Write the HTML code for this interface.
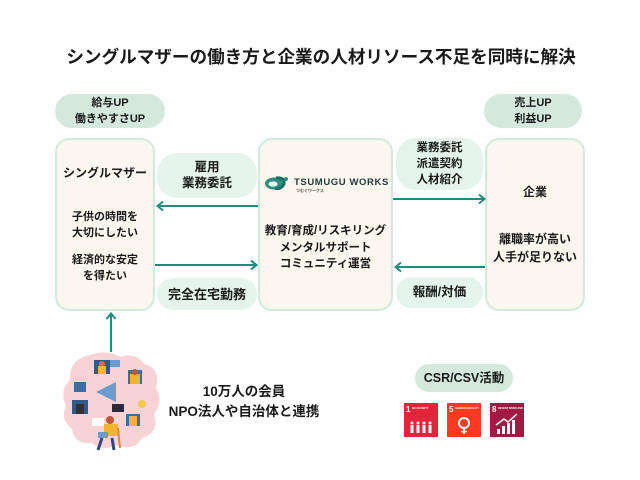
<!DOCTYPE html>
<html><head><meta charset="utf-8">
<style>
html,body{margin:0;padding:0;background:#fff;}
body{width:640px;height:480px;position:relative;overflow:hidden;font-family:"Liberation Sans","Noto Sans CJK JP",sans-serif;font-weight:bold;color:#1a1a1a;}
.a{position:absolute;}
.t{position:absolute;text-align:center;white-space:nowrap;}
.box{position:absolute;background:#fbf7ee;border:2px solid #d3e9dc;border-radius:14px;box-sizing:border-box;}
.pill{position:absolute;background:#d4e8dc;border-radius:18px;}
.mint{position:absolute;background:#e5f5ed;border-radius:20px;}
</style></head><body>

<div class="t" style="left:0;width:642px;top:46px;font-size:17.6px;line-height:22px;">シングルマザーの働き方と企業の人材リソース不足を同時に解決</div>

<div class="pill" style="left:55px;top:94px;width:110px;height:34px;"></div>
<div class="t" style="left:55px;width:110px;top:95px;font-size:11px;line-height:16px;">給与UP<br>働きやすさUP</div>
<div class="pill" style="left:484px;top:94px;width:98px;height:34px;"></div>
<div class="t" style="left:484px;width:98px;top:95px;font-size:11px;line-height:16px;">売上UP<br>利益UP</div>

<div class="box" style="left:55px;top:138px;width:100px;height:173px;"></div>
<div class="box" style="left:258px;top:138px;width:135px;height:173px;"></div>
<div class="box" style="left:485px;top:138px;width:100px;height:173px;"></div>

<div class="t" style="left:55px;width:100px;top:165px;font-size:12px;line-height:16px;">シングルマザー</div>
<div class="t" style="left:55px;width:100px;top:210px;font-size:11px;line-height:15.5px;">子供の時間を<br>大切にしたい</div>
<div class="t" style="left:55px;width:100px;top:253px;font-size:11px;line-height:15.5px;">経済的な安定<br>を得たい</div>

<div class="mint" style="left:157px;top:153px;width:100px;height:45px;"></div>
<div class="t" style="left:157px;width:100px;top:159px;font-size:12.5px;line-height:16px;">雇用<br>業務委託</div>
<div class="mint" style="left:157px;top:278px;width:100px;height:32px;border-radius:16px;"></div>
<div class="t" style="left:157px;width:100px;top:286px;font-size:13px;line-height:17px;">完全在宅勤務</div>

<div class="mint" style="left:396px;top:138px;width:87px;height:52px;"></div>
<div class="t" style="left:396px;width:87px;top:140px;font-size:11.5px;line-height:16px;">業務委託<br>派遣契約<br>人材紹介</div>
<div class="mint" style="left:396px;top:277px;width:87px;height:31px;border-radius:16px;"></div>
<div class="t" style="left:396px;width:87px;top:284px;font-size:12.5px;line-height:17px;">報酬/対価</div>

<!-- logo -->
<svg class="a" style="left:264px;top:176px;" width="26" height="14" viewBox="0 0 26 14">
<ellipse cx="10" cy="7.5" rx="9" ry="6" fill="#2f8f84"/>
<ellipse cx="9" cy="8" rx="4.5" ry="2.6" fill="#fbf7ee"/>
<path d="M12 2 Q21 1 20 8 Q18 13 11 13" fill="none" stroke="#1e6e66" stroke-width="3"/>
<circle cx="22" cy="3" r="2" fill="#2f8f84"/>
</svg>
<div class="a" style="left:294px;top:177px;font-size:9.5px;line-height:11px;letter-spacing:0.6px;color:#1f3838;font-family:'Liberation Sans',sans-serif;">TSUMUGU WORKS</div>
<div class="a" style="left:296px;top:188px;font-size:4px;line-height:5px;color:#555;">つむぐワークス</div>

<div class="t" style="left:258px;width:135px;top:223px;font-size:11.5px;line-height:16.5px;">教育/育成/リスキリング<br>メンタルサポート<br>コミュニティ運営</div>

<div class="t" style="left:485px;width:100px;top:184px;font-size:12px;line-height:16px;">企業</div>
<div class="t" style="left:485px;width:100px;top:230px;font-size:12px;line-height:18px;">離職率が高い<br>人手が足りない</div>

<svg class="a" style="left:0;top:0;" width="640" height="480">
<g stroke="#1f8c7e" stroke-width="2" fill="none">
<line x1="258" y1="206" x2="158" y2="206"/>
<polyline points="163,201.5 157.5,206 163,210.5"/>
<line x1="155" y1="265" x2="256" y2="265"/>
<polyline points="251,260.5 256.5,265 251,269.5"/>
<line x1="393" y1="199" x2="484" y2="199"/>
<polyline points="479,194.5 484.5,199 479,203.5"/>
<line x1="485" y1="267" x2="396" y2="267"/>
<polyline points="401,262.5 395.5,267 401,271.5"/>
<line x1="111" y1="352" x2="111" y2="314"/>
<polyline points="106.5,319 111,313.5 115.5,319"/>
</g>
</svg>

<!-- illustration -->
<svg class="a" style="left:62px;top:352px;" width="100" height="100" viewBox="0 0 100 100">
<path d="M28 3 Q45 -3 58 5 Q74 0 82 12 Q99 16 94 36 Q102 50 92 62 Q98 80 80 86 Q72 100 54 93 Q40 100 30 91 Q12 93 10 77 Q-2 68 4 54 Q-3 38 8 28 Q6 8 28 3Z" fill="#f7d3d6"/>
<rect x="12" y="30" width="12" height="10" fill="#3b6fa3"/>
<rect x="32" y="8" width="16" height="14" fill="#2f5a8a"/>
<circle cx="40" cy="12" r="3" fill="#d9703a"/>
<rect x="36" y="14" width="8" height="8" fill="#f2b431"/>
<rect x="48" y="8" width="10" height="7" fill="#6c9bd0"/>
<rect x="66" y="18" width="14" height="14" fill="#3b6fa3"/>
<rect x="68" y="22" width="10" height="10" fill="#f2b431"/>
<circle cx="73" cy="20" r="3" fill="#c0563a"/>
<path d="M34 40 L54 30 L54 50 Z" fill="#6c9bd0"/>
<rect x="10" y="48" width="16" height="14" fill="#2f5a8a"/>
<rect x="14" y="52" width="8" height="10" fill="#333"/>
<rect x="50" y="52" width="12" height="8" fill="#2a2a3a"/>
<circle cx="80" cy="52" r="4" fill="#f2c94c"/>
<rect x="64" y="62" width="14" height="12" fill="#3b6fa3"/>
<rect x="67" y="64" width="8" height="10" fill="#f2b431"/>
<rect x="30" y="66" width="12" height="8" fill="#fff"/>
<rect x="42" y="72" width="14" height="12" fill="#f2b431"/>
<circle cx="48" cy="68" r="4" fill="#c0563a"/>
<rect x="36" y="80" width="10" height="6" fill="#6c9bd0"/>
<path d="M40 86 L36 98 M50 86 L52 98" stroke="#2f4a7a" stroke-width="3"/>
<path d="M56 76 L58 96" stroke="#e08a3a" stroke-width="2"/>
</svg>

<div class="t" style="left:156px;width:176px;top:382px;font-size:13.5px;line-height:20px;">10万人の会員<br>NPO法人や自治体と連携</div>

<div class="pill" style="left:415px;top:364px;width:98px;height:28px;border-radius:14px;"></div>
<div class="t" style="left:415px;width:98px;top:370px;font-size:12.5px;line-height:16px;">CSR/CSV活動</div>

<svg class="a" style="left:404px;top:403px;" width="122" height="35" viewBox="0 0 122 35">
<rect x="0" y="0" width="34" height="34" fill="#e5243b"/>
<text x="2" y="9" font-size="8" fill="#fff" font-family="Liberation Sans" font-weight="bold">1</text>
<text x="8" y="6" font-size="2.5" fill="#fff" font-family="Liberation Sans">NO POVERTY</text>
<g fill="#fff"><circle cx="8" cy="20" r="1.5"/><rect x="6.5" y="22" width="3" height="8"/><circle cx="14" cy="20" r="1.5"/><rect x="12.5" y="22" width="3" height="8"/><circle cx="20" cy="20" r="1.5"/><rect x="18.5" y="22" width="3" height="8"/><circle cx="26" cy="20" r="1.5"/><rect x="24.5" y="22" width="3" height="8"/></g>
<rect x="43" y="0" width="34" height="34" fill="#ff3a21"/>
<text x="45" y="9" font-size="8" fill="#fff" font-family="Liberation Sans" font-weight="bold">5</text>
<text x="51" y="6" font-size="2.5" fill="#fff" font-family="Liberation Sans">GENDER EQUALITY</text>
<circle cx="60" cy="20" r="5" fill="none" stroke="#fff" stroke-width="2"/>
<line x1="60" y1="25" x2="60" y2="31" stroke="#fff" stroke-width="2"/>
<line x1="57" y1="28.5" x2="63" y2="28.5" stroke="#fff" stroke-width="1.5"/>
<rect x="86" y="0" width="34" height="34" fill="#a21942"/>
<text x="88" y="9" font-size="8" fill="#fff" font-family="Liberation Sans" font-weight="bold">8</text>
<text x="94" y="6" font-size="2.5" fill="#fff" font-family="Liberation Sans">DECENT WORK AND</text>
<g fill="#fff"><rect x="93" y="26" width="3" height="5"/><rect x="98" y="23" width="3" height="8"/><rect x="103" y="20" width="3" height="11"/><rect x="108" y="17" width="3" height="14"/></g>
<polyline points="92,22 100,16 104,19 113,11" fill="none" stroke="#fff" stroke-width="1.5"/>
</svg>

</body></html>
